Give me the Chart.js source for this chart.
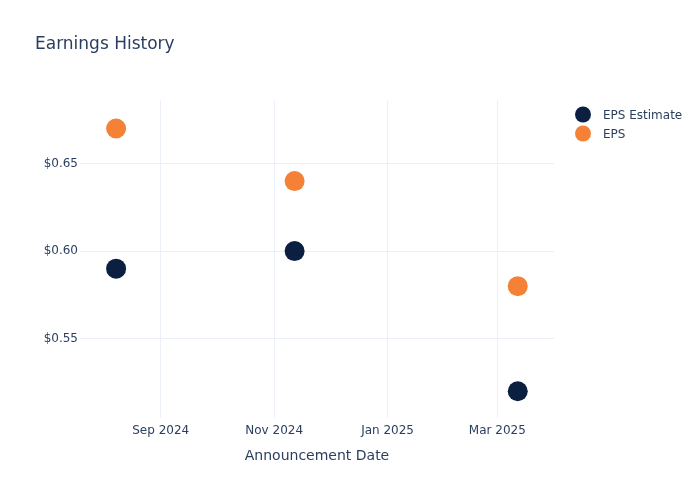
<!DOCTYPE html>
<html>
<head>
<meta charset="utf-8">
<script src="https://cdn.jsdelivr.net/npm/chart.js@4/dist/chart.umd.min.js"></script>
<style>
  html, body { margin: 0; padding: 0; background: #ffffff; }
  #wrap { width: 700px; height: 500px; position: relative; }
</style>
</head>
<body>
<div id="wrap"><canvas id="c" width="700" height="500"></canvas></div>
<script>
// ---- data ----
const announcementDates = ['2024-08-08', '2024-11-12', '2025-03-12'];
const epsEstimate = [0.59, 0.60, 0.52];
const epsActual = [0.67, 0.64, 0.58];
const xTickDates = ['2024-09-01', '2024-11-01', '2025-01-01', '2025-03-01'];
const xTickLabels = ['Sep 2024', 'Nov 2024', 'Jan 2025', 'Mar 2025'];
const yTickValues = [0.55, 0.60, 0.65];
const seriesNames = ['EPS Estimate', 'EPS'];
const seriesColors = ['#0b1f41', '#f58137'];
const chartTitle = 'Earnings History';
const xAxisTitle = 'Announcement Date';
const xRange = ['2024-07-19T14:00:00Z', '2025-03-31T12:00:00Z'];
const yRange = [0.505, 0.686];

const FONT = '"DejaVu Sans", "Noto Sans", sans-serif';
const TEXT = '#2a3f5f';
const GRID = '#ebf0f8';

const toPts = (vals) => vals.map((v, i) => ({ x: Date.parse(announcementDates[i]), y: v }));

const overlay = {
  id: 'overlay',
  afterDraw(chart) {
    const ctx = chart.ctx;
    ctx.save();
    ctx.fillStyle = TEXT;
    ctx.font = '17px ' + FONT;
    ctx.textAlign = 'left';
    ctx.textBaseline = 'middle';
    ctx.fillText(chartTitle, 35, 45);
    // legend
    ctx.font = '12px ' + FONT;
    chart.data.datasets.forEach((ds, i) => {
      const y = 114.5 + i * 19;
      ctx.beginPath();
      ctx.arc(583, y, 8, 0, Math.PI * 2);
      ctx.fillStyle = ds.backgroundColor;
      ctx.fill();
      ctx.fillStyle = TEXT;
      ctx.fillText(ds.label, 603, y + 1);
    });
    ctx.restore();
  }
};

new Chart(document.getElementById('c'), {
  type: 'scatter',
  data: {
    datasets: [
      { label: seriesNames[0], data: toPts(epsEstimate), backgroundColor: seriesColors[0], borderColor: seriesColors[0], pointRadius: 10, pointHoverRadius: 10, borderWidth: 0 },
      { label: seriesNames[1], data: toPts(epsActual), backgroundColor: seriesColors[1], borderColor: seriesColors[1], pointRadius: 10, pointHoverRadius: 10, borderWidth: 0 }
    ]
  },
  options: {
    responsive: false,
    animation: false,
    events: [],
    layout: { padding: { top: 100.5, right: 146, left: 0, bottom: 0 } },
    plugins: { legend: { display: false }, title: { display: false }, tooltip: { enabled: false } },
    scales: {
      x: {
        type: 'linear',
        min: Date.parse(xRange[0]),
        max: Date.parse(xRange[1]),
        border: { display: false },
        grid: { color: GRID, lineWidth: 1, drawTicks: false },
        afterBuildTicks: (s) => { s.ticks = xTickDates.map(d => ({ value: Date.parse(d) })); },
        afterFit: (s) => { s.height = 82.5; },
        ticks: {
          color: TEXT, font: { family: FONT, size: 12 }, padding: 6, maxRotation: 0, autoSkip: false,
          callback: (v) => { const i = xTickDates.findIndex(d => Date.parse(d) === v); return i >= 0 ? xTickLabels[i] : ''; }
        },
        title: { display: true, text: xAxisTitle, color: TEXT, font: { family: FONT, size: 14 }, padding: { top: 0, bottom: 35 } }
      },
      y: {
        type: 'linear',
        min: yRange[0],
        max: yRange[1],
        border: { display: false },
        grid: { color: GRID, lineWidth: 1, drawTicks: false },
        afterBuildTicks: (s) => { s.ticks = yTickValues.map(v => ({ value: v })); },
        afterFit: (s) => { s.width = 80; },
        ticks: { color: TEXT, font: { family: FONT, size: 12 }, padding: 2, callback: (v) => '$' + Number(v).toFixed(2) }
      }
    }
  },
  plugins: [overlay]
});
</script>
</body>
</html>
